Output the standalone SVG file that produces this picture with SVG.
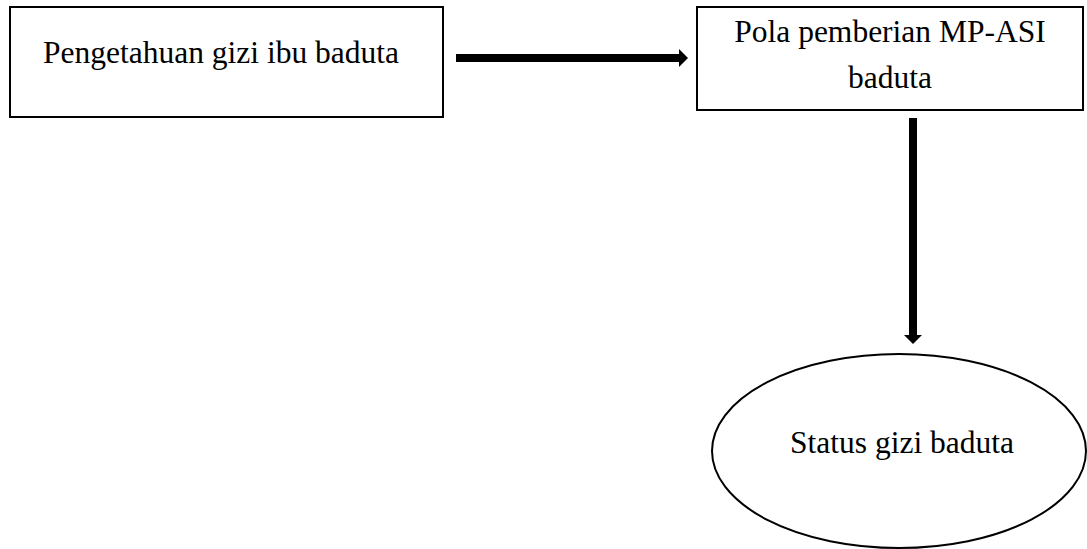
<svg xmlns="http://www.w3.org/2000/svg" width="1087" height="549" viewBox="0 0 1087 549">
<style>
.box{fill:#fff;stroke:#000;stroke-width:2}
.t{font-family:"Liberation Serif","Times New Roman",serif;font-size:31.5px;fill:#000;text-anchor:middle}
.c{stroke:#000;stroke-width:8;fill:none}
</style>
<defs>
<marker id="ah" markerUnits="userSpaceOnUse" markerWidth="10" markerHeight="18" refX="0" refY="9" orient="auto">
<path d="M0,0 L9,9 L0,18 Z" fill="#000"/>
</marker>
</defs>
<rect width="1087" height="549" fill="#fff"/>
<g id="connectors">
<line class="c" x1="456" y1="58" x2="679" y2="58" marker-end="url(#ah)"/>
<line class="c" x1="913" y1="118" x2="913" y2="335" marker-end="url(#ah)"/>
</g>
<g id="node1">
<rect class="box" x="10" y="7" width="433" height="110"/>
<text class="t" x="221" y="63">Pengetahuan gizi ibu baduta</text>
</g>
<g id="node2">
<rect class="box" x="697" y="7" width="386" height="103"/>
<text class="t" x="890" y="42">Pola pemberian MP-ASI</text>
<text class="t" x="890" y="88">baduta</text>
</g>
<g id="node3">
<ellipse class="box" cx="899" cy="451" rx="187" ry="97"/>
<text class="t" x="902" y="453">Status gizi baduta</text>
</g>
</svg>
